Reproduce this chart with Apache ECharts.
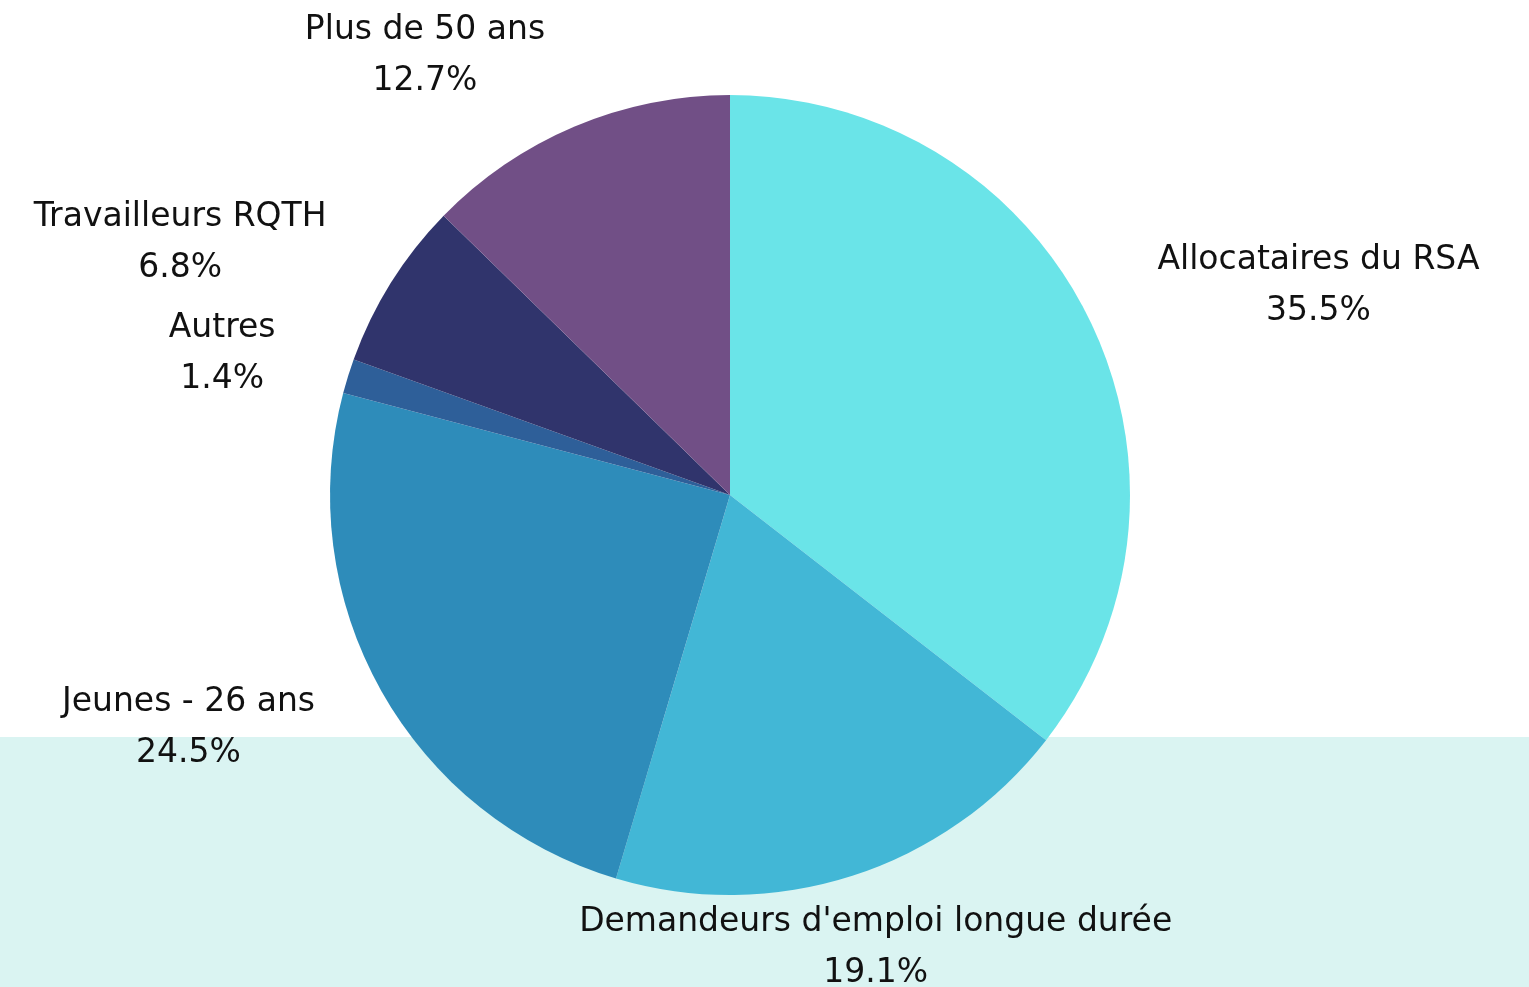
<!DOCTYPE html>
<html>
<head>
<meta charset="utf-8">
<script src="https://cdn.jsdelivr.net/npm/echarts@6/dist/echarts.min.js"></script>
<style>
  html, body { margin: 0; padding: 0; background: #fff; }
  #main { width: 1529px; height: 987px; }
</style>
</head>
<body>
<div id="main"></div>
<script>
  const categories = ['Allocataires du RSA', "Demandeurs d'emploi longue durée", 'Jeunes - 26 ans', 'Autres', 'Travailleurs RQTH', 'Plus de 50 ans']
  const shares = [35.5, 19.1, 24.5, 1.4, 6.8, 12.7]
  const colors = ['#6ae4e8', '#42b7d6', '#2e8cba', '#2e5f99', '#30346c', '#714f86']

  const center = [730, 495]
  const radius = 400
  const labelDist = 476

  // angle du milieu de chaque part, en partant du haut, sens horaire
  const total = shares.reduce((a, b) => a + b, 0)
  let acc = 0
  const midAngles = shares.map(v => {
    const mid = (acc + v / 2) / total * Math.PI * 2
    acc += v
    return mid
  })

  const chart = echarts.init(document.getElementById('main'))
  const option = {
    animation: false,
    color: colors,
    graphic: [{
      type: 'rect',
      z: -10,
      shape: { x: 0, y: 737, width: 1529, height: 250 },
      style: { fill: '#daf4f2' }
    }],
    series: [{
      type: 'pie',
      center: center,
      radius: radius,
      startAngle: 90,
      clockwise: true,
      itemStyle: { borderWidth: 0 },
      label: {
        show: true,
        position: 'outside',
        formatter: '{b}\n{c}%',
        fontFamily: 'DejaVu Sans',
        fontSize: 33,
        lineHeight: 51,
        color: '#111',
        align: 'center'
      },
      labelLine: { show: false },
      labelLayout: (params) => {
        const a = midAngles[params.dataIndex]
        const dx = Math.sin(a), dy = -Math.cos(a)
        let x = center[0] + dx * labelDist
        const y = center[1] + dy * labelDist
        const w = params.labelRect.width
        if (dx > 0.35) x += w / 2
        else if (dx < -0.35) x -= w / 2
        return { x: x, y: y, align: 'center', verticalAlign: 'middle', hideOverlap: false }
      },
      data: categories.map((name, i) => ({ name: name, value: shares[i] }))
    }]
  }
  chart.setOption(option)
</script>
</body>
</html>
